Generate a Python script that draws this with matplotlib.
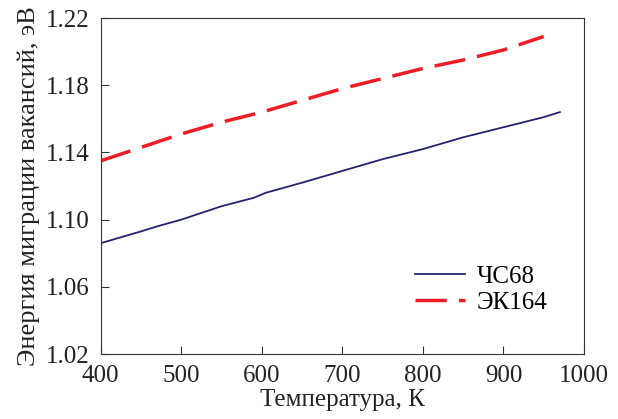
import matplotlib
matplotlib.use("Agg")
import matplotlib.pyplot as plt

plt.rcParams['font.family'] = ['Liberation Serif', 'DejaVu Serif']

# ЧС68
t_cs68 = [400, 450, 470, 500, 550, 590, 605, 650, 700, 750, 800, 850, 900, 950, 970]
e_cs68 = [1.086, 1.093, 1.096, 1.100, 1.108, 1.113, 1.116, 1.122, 1.129, 1.136, 1.142, 1.149, 1.155, 1.161, 1.164]

# ЭК164
t_ek164 = [400, 450, 500, 550, 600, 650, 700, 750, 800, 850, 900, 950]
e_ek164 = [1.135, 1.143, 1.151, 1.158, 1.164, 1.171, 1.178, 1.184, 1.190, 1.195, 1.201, 1.209]

xticks = [400, 500, 600, 700, 800, 900, 1000]
yticks = [1.02, 1.06, 1.10, 1.14, 1.18, 1.22]

fig = plt.figure(figsize=(6.18, 4.19), dpi=100)
ax = fig.add_axes([0.163, 0.155, 0.782, 0.802])

ax.plot(t_cs68, e_cs68, color='#23236e', lw=1.3, label='ЧС68')
ax.plot(t_ek164, e_ek164, color='#ee1c25', lw=2.5, dashes=(9, 3.5), label='ЭК164')

ax.set_xlim(400, 1000)
ax.set_ylim(1.02, 1.22)
ax.set_xticks(xticks)
ax.set_yticks(yticks)
ax.set_yticklabels(['%.2f' % v for v in yticks])
ax.tick_params(direction='in', labelsize=18, length=6, color='#333333', labelcolor='#222222')
ax.tick_params(axis='y', pad=8)
ax.tick_params(axis='x', pad=8)
for s in ax.spines.values():
    s.set_color('#333333')

ax.set_xlabel('Температура, К', fontsize=18, color='#222222', labelpad=1)
ax.set_ylabel('Энергия миграции вакансий, эВ', fontsize=19, color='#222222', labelpad=4)

ax.legend(loc='lower right', frameon=False, fontsize=18, handlelength=2.0,
          handletextpad=0.5, borderpad=0, borderaxespad=0,
          bbox_to_anchor=(0.925, 0.12), labelspacing=0.12)

fig.savefig('out.png', dpi=100)
